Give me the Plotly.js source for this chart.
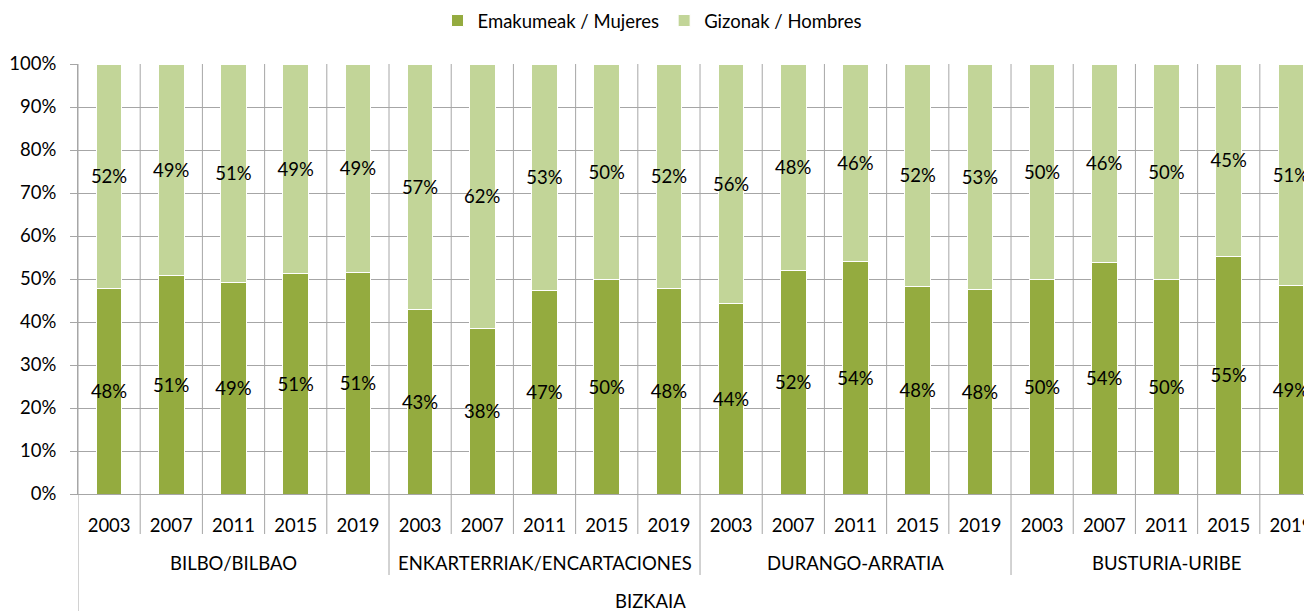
<!DOCTYPE html>
<html>
<head>
<meta charset="utf-8">
<script src="https://cdn.plot.ly/plotly-3.0.1.min.js"></script>
<style>
  html, body { margin: 0; padding: 0; background: #fff; }
  #chart { width: 1304px; height: 612px; }
</style>
</head>
<body>
<div id="chart"></div>
<script>
// one bar per region and year
const regions = ['BILBO/BILBAO', 'ENKARTERRIAK/ENCARTACIONES', 'DURANGO-ARRATIA', 'BUSTURIA-URIBE'];
const years = ['2003', '2007', '2011', '2015', '2019'];
const topLabel = 'BIZKAIA';

// shares in %
const emakumeak = [47.9, 50.7, 49.1, 51.2, 51.4,
                   42.8, 38.4, 47.4, 50.0, 47.7,
                   44.4, 51.9, 54.0, 48.2, 47.5,
                   50.0, 53.8, 50.0, 55.3, 48.6];
const gizonak   = [52.1, 49.3, 50.9, 48.8, 48.6,
                   57.2, 61.6, 52.6, 50.0, 52.3,
                   55.6, 48.1, 46.0, 51.8, 52.5,
                   50.0, 46.2, 50.0, 44.7, 51.4];

const FONT = 'Lato, "Open Sans", sans-serif';
const FS = 18.5;
const GRID = '#a6a6a6';
const n = regions.length * years.length;
const idx = [];
const yearText = [];
for (let i = 0; i < n; i++) {
    idx.push(i);
    yearText.push(years[i % years.length]);
}

// plot box in pixels, used to place the lines under the axis
const plotTop = 64, plotBottom = 494;
const plotH = plotBottom - plotTop;
const px = p => -p / plotH;

let shapes = [];
for (let k = 0; k < n; k++) {
    let depth = 40;                      // year row
    if (k % years.length === 0) depth = 81;  // region row
    if (k === 0) depth = 117;            // whole axis
    shapes.push({
        type: 'line', xref: 'x', yref: 'paper',
        x0: k - 0.5, x1: k - 0.5, y0: 1, y1: px(depth),
        line: { color: GRID, width: 1 }
    });
}

let annotations = [];
regions.forEach((r, g) => {
    annotations.push({
        xref: 'x', yref: 'paper', x: g * years.length + 2, y: px(69),
        text: r, showarrow: false, yanchor: 'middle',
        font: { family: FONT, size: FS, color: '#000' }
    });
});
annotations.push({
    xref: 'paper', yref: 'paper', x: (650 - 78) / 1226, y: px(107),
    text: topLabel, showarrow: false, yanchor: 'middle',
    font: { family: FONT, size: FS, color: '#000' }
});

const barStyle = {
    type: 'bar',
    x: idx,
    width: 0.41,
    textposition: 'inside',
    insidetextanchor: 'middle',
    constraintext: 'none',
    textangle: 0,
    texttemplate: '%{y:.0f}%',
    textfont: { family: FONT, size: FS, color: '#000' },
    hoverinfo: 'skip',
    cliponaxis: false
};

let data = [
    Object.assign({}, barStyle, {
        name: 'Emakumeak / Mujeres', y: emakumeak,
        marker: { color: '#94ab3f', line: { color: '#ffffff', width: 1 } }
    }),
    Object.assign({}, barStyle, {
        name: 'Gizonak / Hombres', y: gizonak,
        marker: { color: '#c2d598', line: { color: '#ffffff', width: 1 } }
    })
];

let layout = {
    width: 1304,
    height: 612,
    margin: { l: 78, r: 0, t: plotTop, b: 612 - plotBottom },
    paper_bgcolor: '#fff',
    plot_bgcolor: '#fff',
    barmode: 'stack',
    font: { family: FONT, size: FS, color: '#000' },
    showlegend: true,
    legend: {
        orientation: 'h', traceorder: 'normal',
        x: 0.5, xref: 'container', xanchor: 'center',
        y: 1 - 21 / 612, yref: 'container', yanchor: 'middle',
        font: { family: FONT, size: FS, color: '#000' },
        itemwidth: 30
    },
    xaxis: {
        range: [-0.5, 19.21],
        tickvals: idx,
        ticktext: yearText,
        ticks: '',
        showgrid: false,
        zeroline: false,
        showline: true,
        linecolor: GRID,
        ticklabelstandoff: 15,
        ticklabeloverflow: 'allow',
        tickfont: { family: FONT, size: FS, color: '#000' }
    },
    yaxis: {
        range: [0, 100],
        dtick: 10,
        ticksuffix: '%',
        ticks: 'outside',
        ticklen: 7,
        tickcolor: GRID,
        showgrid: true,
        gridcolor: GRID,
        zeroline: false,
        showline: true,
        linecolor: GRID,
        ticklabelstandoff: 10,
        tickfont: { family: FONT, size: FS, color: '#000' }
    },
    shapes: shapes,
    annotations: annotations
};

Plotly.newPlot('chart', data, layout, { displayModeBar: false, staticPlot: true });
</script>
</body>
</html>
